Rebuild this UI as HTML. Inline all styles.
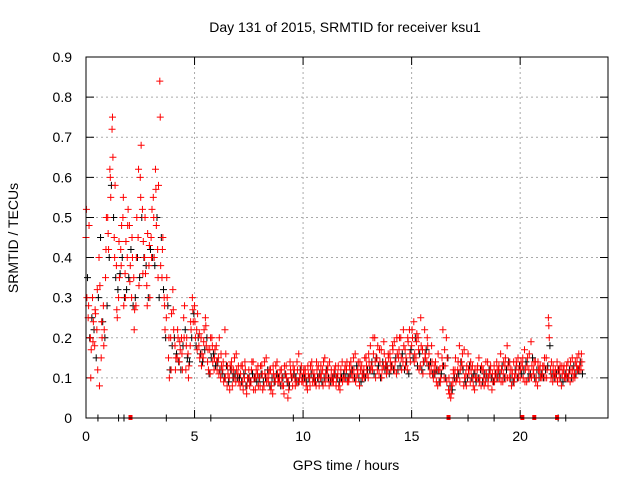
<!DOCTYPE html>
<html><head><meta charset="utf-8">
<style>
body{margin:0;background:#fff;font-family:"Liberation Sans",sans-serif;}
svg text{font-family:"Liberation Sans",sans-serif;font-size:14px;fill:#000;}
</style></head>
<body>
<svg id="chart" width="640" height="480">
<text x="345" y="32" text-anchor="middle">Day 131 of 2015, SRMTID for receiver ksu1</text>
<text x="346" y="470" text-anchor="middle">GPS time / hours</text>
<text transform="translate(18,238) rotate(-90)" text-anchor="middle">SRMTID / TECUs</text>
<g id="grid"></g><g id="marks"></g>
<rect x="86" y="57" width="522" height="361" fill="none" stroke="#000"/>
</svg>
<script>
const xTicks=[0,5,10,15,20];
const yTicks=[0,0.1,0.2,0.3,0.4,0.5,0.6,0.7,0.8,0.9];
const red1=[.45,.25,.2,.3,.18,.22,.4,.15,.28,.35,
.5,.62,.72,.45,.38,.3,.42,.5,.36,.4,
.48,.3,.35,.28,.45,.6,.52,.4,.33,.38,
.45,.55,.62,.42,.84,.35,.3,.25,.15,.2,
.32,.18,.15,.14,.2,.25,.12,.16,.18,.3,
.28,.22,.18,.2,.15,.25,.14,.17,.2,.12,
.18,.15,.1,.12,.22,.08,.1,.14,.12,.09,
.11,.08,.13,.1,.06,.12,.09,.14,.07,.11,
.1,.13,.08,.15,.09,.12,.06,.1,.14,.09,
.12,.08,.11,.05,.14,.1,.12,.09,.16,.11,
.09,.12,.07,.1,.14,.11,.08,.13,.1,.12,
.15,.1,.08,.12,.09,.13,.11,.07,.14,.1,
.12,.09,.14,.1,.16,.11,.08,.13,.12,.15,
.1,.18,.12,.2,.15,.11,.17,.13,.14,.12,
.16,.13,.19,.11,.15,.2,.14,.17,.12,.22,
.18,.24,.15,.2,.13,.17,.22,.14,.16,.12,
.1,.14,.08,.12,.15,.1,.2,.07,.05,.09,
.12,.1,.18,.14,.08,.11,.16,.09,.13,.07,
.1,.15,.08,.12,.09,.14,.11,.07,.13,.1,
.12,.16,.09,.13,.18,.1,.08,.14,.11,.15,
.1,.13,.17,.09,.12,.19,.11,.14,.08,.12,
.1,.13,.15,.25,.12,.09,.11,.14,.1,.08,
.12,.1,.14,.09,.15,.11,.13,.16,.12];
const red2=[.3,.48,.17,.24,.26,.12,.33,.2,.22,.5,
.42,.55,.65,.58,.25,.35,.48,.28,.44,.52,
.38,.4,.27,.5,.33,.68,.44,.36,.46,.3,
.52,.4,.48,.58,.38,.45,.22,.3,.1,.26,
.22,.15,.2,.17,.12,.28,.2,.13,.22,.24,
.2,.26,.15,.16,.22,.18,.12,.2,.14,.17,
.12,.2,.13,.09,.16,.11,.13,.08,.15,.12,
.09,.13,.07,.12,.1,.08,.14,.1,.12,.08,
.13,.07,.11,.1,.12,.08,.11,.13,.09,.12,
.08,.13,.1,.07,.11,.13,.08,.12,.1,.09,
.12,.08,.11,.13,.09,.1,.12,.08,.11,.14,
.11,.13,.1,.09,.12,.1,.08,.12,.1,.13,
.09,.13,.11,.12,.1,.14,.12,.1,.15,.11,
.14,.13,.16,.1,.18,.14,.12,.16,.11,.15,
.12,.17,.14,.16,.2,.12,.18,.15,.19,.14,
.2,.16,.21,.12,.18,.14,.15,.18,.11,.14,
.13,.09,.12,.1,.22,.13,.15,.06,.08,.11,
.09,.14,.12,.16,.1,.13,.11,.12,.08,.1,
.13,.1,.12,.08,.11,.1,.13,.09,.11,.12,
.1,.12,.14,.1,.13,.12,.11,.1,.13,.12,
.14,.1,.12,.15,.1,.13,.14,.1,.12,.1,
.13,.1,.12,.2,.14,.11,.1,.12,.13,.11,
.1,.13,.11,.12,.1,.14,.12,.13,.14];
const red3=[.52,.28,.1,.19,.27,.32,.08,.24,.18,.42,
.46,.6,.75,.4,.27,.44,.38,.55,.3,.48,
.34,.45,.22,.4,.62,.55,.36,.5,.28,.43,
.4,.5,.57,.35,.75,.42,.28,.35,.2,.12,
.27,.12,.22,.19,.16,.2,.18,.1,.24,.27,
.24,.17,.21,.13,.19,.23,.17,.11,.18,.15,
.14,.11,.16,.14,.1,.13,.07,.12,.1,.16,
.13,.11,.09,.14,.08,.1,.12,.07,.1,.13,
.08,.11,.14,.09,.11,.07,.13,.09,.11,.1,
.1,.06,.13,.09,.12,.08,.1,.14,.09,.13,
.11,.1,.13,.08,.12,.09,.14,.1,.13,.08,
.09,.12,.14,.1,.11,.08,.13,.1,.09,.12,
.14,.1,.12,.15,.09,.12,.14,.11,.1,.13,
.16,.12,.2,.14,.12,.17,.1,.19,.13,.16,
.14,.18,.12,.2,.17,.15,.22,.13,.2,.16,
.22,.14,.19,.17,.25,.11,.16,.2,.13,.18,
.11,.12,.16,.09,.13,.17,.09,.1,.06,.12,
.15,.12,.09,.13,.17,.08,.12,.14,.1,.12,
.12,.09,.13,.1,.14,.08,.12,.11,.09,.14,
.13,.09,.11,.15,.1,.14,.12,.09,.14,.1,
.12,.15,.09,.13,.16,.1,.12,.09,.14,.13,
.11,.15,.1,.23,.1,.13,.12,.09,.12,.13,
.13,.11,.1,.14,.12,.1,.15,.12,.16];
const black1=[.35,.2,.25,.22,.15,.3,.45,.24,.2,.28,
.4,.58,.5,.35,.32,.36,.4,.3,.32,.35,
.42,.28,.3,.4,.35,.5,.4,.38,.3,.42,
.4,.38,.5,.3,.45,.32,.2,.28,.12,.18,
.2,.16,.14,.12,.18,.22,.15,.14,.2,.26,
.18,.2,.16,.14,.17,.2,.11,.15,.16,.13,
.14,.12,.11,.1,.13,.09,.12,.1,.11,.1,
.1,.09,.11,.08,.1,.09,.11,.1,.09,.1,
.11,.09,.1,.12,.08,.1,.09,.11,.1,.08,
.1,.11,.09,.08,.1,.11,.1,.09,.12,.1,
.1,.09,.1,.11,.1,.09,.1,.11,.09,.1,
.12,.1,.09,.1,.11,.1,.09,.1,.11,.1,
.1,.11,.12,.1,.13,.1,.09,.11,.1,.12,
.12,.14,.11,.15,.13,.1,.14,.12,.13,.11,
.13,.12,.15,.12,.13,.16,.12,.14,.11,.17,
.15,.2,.13,.16,.12,.14,.17,.13,.14,.11,
.11,.12,.09,.11,.13,.1,.15,.08,.07,.1,
.1,.11,.14,.12,.09,.1,.13,.1,.11,.09,
.1,.12,.09,.11,.1,.12,.1,.09,.11,.1,
.11,.13,.1,.12,.14,.1,.09,.12,.1,.13,
.11,.12,.14,.1,.11,.15,.1,.12,.1,.11,
.1,.12,.13,.18,.11,.1,.11,.12,.1,.09,
.11,.1,.12,.1,.13,.11,.12,.14,.11];
const dropRed=[2.05,16.7,20.1,20.65,21.7];
const dropBlack=[0.55,1.5,1.75,3.7,5.75,9.55,12.6,17.6,18.8,21.75,22.1];
const X=t=>86+t*(521/24), Y=v=>418-v*(361/0.9);
const ns="http://www.w3.org/2000/svg";
const grid=document.getElementById('grid'),marks=document.getElementById('marks');
function mk(tag,attrs,parent){const e=document.createElementNS(ns,tag);for(const k in attrs)e.setAttribute(k,attrs[k]);parent.appendChild(e);return e;}
yTicks.forEach(v=>{
 const l=mk('line',{x1:86,x2:608,y1:Y(v),y2:Y(v),stroke:'#aaa','stroke-dasharray':'2,3'},grid);
 
 
 const tk=mk('path',{d:`M86,${Y(v)}h8M608,${Y(v)}h-8`,stroke:'#000'},grid);
 
 
 const t=mk('text',{x:72,y:Y(v)+5,'text-anchor':'end'},grid);t.textContent=v===0?'0':String(v);
 
 
});
xTicks.forEach(v=>{
 const l=mk('line',{x1:X(v),x2:X(v),y1:57,y2:418,stroke:'#aaa','stroke-dasharray':'2,3'},grid);
 
 
 const tk=mk('path',{d:`M${X(v)},418v-8M${X(v)},57v8`,stroke:'#000'},grid);
 
 
 const t=mk('text',{x:X(v),y:441,'text-anchor':'middle'},grid);t.textContent=String(v);
 
 
});
function plus(t,v,col,name){
 const x=X(t),y=Y(v);
 const p=mk('path',{d:`M${x-3.5},${y}h7M${x},${y-3.5}v7`,stroke:col,'stroke-width':1},marks);
 
 
}
black1.forEach((v,i)=>plus(i*0.1+0.07,v,'#000','black-point'));
red1.forEach((v,i)=>plus(i*0.1,v,'#f00','red-point'));
red2.forEach((v,i)=>plus(i*0.1+0.04,v,'#f00','red-point'));
red3.forEach((v,i)=>plus(i*0.1+0.02,v,'#f00','red-point'));
dropBlack.forEach(t=>plus(t,0,'#000','black-zero-point'));
dropRed.forEach(t=>{const r=mk('rect',{x:X(t)-2,y:Y(0)-3,width:4,height:5,fill:'#f00'},marks);
 
 });
</script>
</body></html>
